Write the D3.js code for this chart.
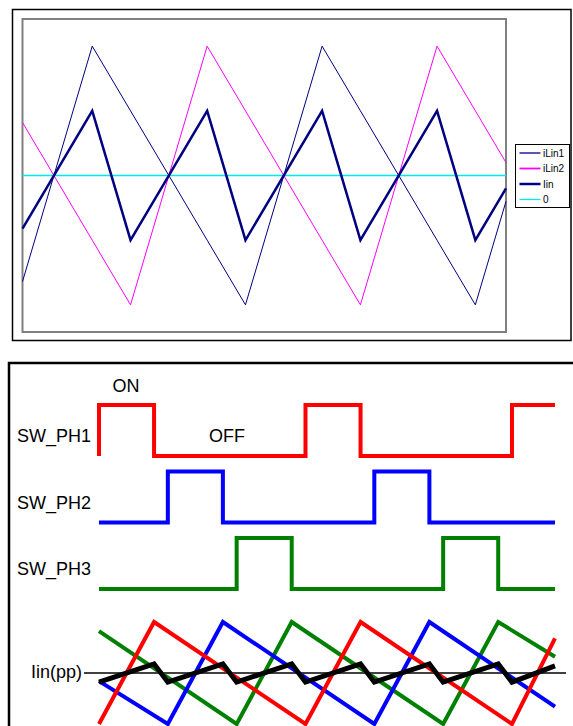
<!DOCTYPE html>
<html>
<head>
<meta charset="utf-8">
<script src="https://cdn.jsdelivr.net/npm/d3@7"></script>
<style>
  body { margin: 0; background: #fff; }
  svg { display: block; font-family: Arial, "Liberation Sans", sans-serif; }
</style>
</head>
<body>
<svg id="chart"></svg>
<script>
// ---- top chart data (Excel style line chart) ----
const tTop   = [-0.91, 0, 0.5, 1.5, 2, 3, 3.5, 4.5, 5, 5.4];
const iLin1  = [-0.82, 1, 0.5, -0.5, -1, 1, 0.5, -0.5, -1, -0.2];
const iLin2  = [0.41, -0.5, -1, 1, 0.5, -0.5, -1, 1, 0.5, 0.1];
const iIn    = [-0.41, 0.5, -0.5, 0.5, -0.5, 0.5, -0.5, 0.5, -0.5, -0.1];
const zeroS  = [0, 0, 0, 0, 0, 0, 0, 0, 0, 0];
const seriesNames = ["iLin1", "iLin2", "Iin", "0"];

// ---- bottom chart data (switching phases) ----
const phaseNames = ["SW_PH1", "SW_PH2", "SW_PH3"];
const swTime  = [[0, 0, 1.6, 6, 7.6, 12, 13.25],
                 [0, 2, 3.6, 8, 9.6, 13.25],
                 [0, 4, 5.6, 10, 11.6, 13.25]];
const swLevel = [[0, 1, 0, 1, 0, 1, 1],
                 [0, 1, 0, 1, 0, 0],
                 [0, 1, 0, 1, 0, 0]];
const triTime  = [[0, 1.6, 6, 7.6, 12, 13.25],
                  [0, 2, 3.6, 8, 9.6, 13.25],
                  [0, 4, 5.6, 10, 11.6, 13.25]];
const triValue = [[0, 1, 0, 1, 0, 0.84],
                  [0.42, 0, 1, 0, 1, 0.17],
                  [0.91, 0, 1, 0, 1, 0.66]];
const rippleTime  = [0, 1.6, 2, 3.6, 4, 5.6, 6, 7.6, 8, 9.6, 10, 11.6, 12, 13.25];
const rippleValue = [0.41, 0.59, 0.41, 0.59, 0.41, 0.59, 0.41, 0.59, 0.41, 0.59, 0.41, 0.59, 0.41, 0.57];

const width = 573;
const height = 726;

let svg = d3.select("#chart")
    .attr("width", width)
    .attr("height", height);

// ===== top chart =====
const plot = {left: 22.5, top: 19, right: 506, bottom: 332};

svg.append("rect")
    .attr("x", 12.5).attr("y", 9.5)
    .attr("width", 558.5).attr("height", 331)
    .attr("fill", "none").attr("stroke", "#000").attr("stroke-width", 1.5);

svg.append("rect")
    .attr("x", plot.left).attr("y", plot.top)
    .attr("width", plot.right - plot.left).attr("height", plot.bottom - plot.top)
    .attr("fill", "#fff").attr("stroke", "#808080").attr("stroke-width", 2);

let x = d3.scaleLinear()
    .domain([-0.91, 5.4])
    .range([plot.left, plot.right]);

let y = d3.scaleLinear()
    .domain([-1.21, 1.21])
    .range([plot.bottom, plot.top]);

let line = d3.line()
    .x(d => x(d[0]))
    .y(d => y(d[1]));

const topSeries = [
    {name: seriesNames[0], values: iLin1, color: "#000080", w: 1},
    {name: seriesNames[1], values: iLin2, color: "#ff00ff", w: 1},
    {name: seriesNames[2], values: iIn,   color: "#000080", w: 2.5},
    {name: seriesNames[3], values: zeroS, color: "#00e8f0", w: 1.3}
];

// zero line drawn first so the waves sit on top of it
[3, 1, 0, 2].forEach(i => {
    let s = topSeries[i];
    svg.append("path")
        .datum(tTop.map((t, j) => [t, s.values[j]]))
        .attr("fill", "none")
        .attr("stroke", s.color)
        .attr("stroke-width", s.w)
        .attr("stroke-linejoin", "miter")
        .attr("d", line);
});

// legend
let legend = svg.append("g").attr("transform", "translate(515.5,144.5)");
legend.append("rect")
    .attr("width", 54).attr("height", 63)
    .attr("fill", "#fff").attr("stroke", "#000").attr("stroke-width", 1);

let item = legend.selectAll(".item")
    .data(topSeries)
  .enter().append("g")
    .attr("transform", (d, i) => `translate(0, ${8.5 + i * 15.5})`);

item.append("line")
    .attr("x1", 4).attr("x2", 25)
    .attr("stroke", d => d.color)
    .attr("stroke-width", (d, i) => i === 2 ? 2.5 : (i === 1 ? 1.8 : 1.3));

item.append("text")
    .attr("x", 27.5).attr("dy", "0.35em")
    .style("font-size", "10px")
    .text(d => d.name);

// ===== bottom chart =====
svg.append("rect")
    .attr("x", 9).attr("y", 363)
    .attr("width", 600).attr("height", 400)
    .attr("fill", "none").attr("stroke", "#000").attr("stroke-width", 2.5);

let xb = d3.scaleLinear()
    .domain([0, 13.25])
    .range([99, 555]);

const phaseColors = ["#ff0000", "#0000ff", "#008000"];
const rowBase = [456, 522.5, 589];

phaseNames.forEach((name, i) => {
    let yr = d3.scaleLinear().domain([0, 1]).range([rowBase[i], rowBase[i] - 51]);
    let step = d3.line()
        .curve(d3.curveStepAfter)
        .x(d => xb(d[0]))
        .y(d => yr(d[1]));

    svg.append("path")
        .datum(swTime[i].map((t, j) => [t, swLevel[i][j]]))
        .attr("fill", "none")
        .attr("stroke", phaseColors[i])
        .attr("stroke-width", 4)
        .attr("stroke-linejoin", "miter")
        .attr("d", step);

    svg.append("text")
        .attr("x", 17)
        .attr("y", rowBase[i] - 14)
        .style("font-size", "18px")
        .text(name);
});

svg.append("text")
    .attr("x", 126).attr("y", 392)
    .attr("text-anchor", "middle")
    .style("font-size", "18px")
    .text("ON");

svg.append("text")
    .attr("x", 209).attr("y", 442)
    .style("font-size", "18px")
    .text("OFF");

// triangular phase currents
let yt = d3.scaleLinear()
    .domain([0, 1])
    .range([724, 622]);

let triLine = d3.line()
    .x(d => xb(d[0]))
    .y(d => yt(d[1]));

svg.append("line")
    .attr("x1", 84).attr("x2", 566)
    .attr("y1", yt(0.5)).attr("y2", yt(0.5))
    .attr("stroke", "#000").attr("stroke-width", 1.5);

[2, 1, 0].forEach(i => {
    svg.append("path")
        .datum(triTime[i].map((t, j) => [t, triValue[i][j]]))
        .attr("fill", "none")
        .attr("stroke", phaseColors[i])
        .attr("stroke-width", 4)
        .attr("stroke-linejoin", "miter")
        .attr("d", triLine);
});

svg.append("path")
    .datum(rippleTime.map((t, j) => [t, rippleValue[j]]))
    .attr("fill", "none")
    .attr("stroke", "#000")
    .attr("stroke-width", 5)
    .attr("stroke-linejoin", "miter")
    .attr("d", triLine);

svg.append("text")
    .attr("x", 82).attr("y", yt(0.5) + 5)
    .attr("text-anchor", "end")
    .style("font-size", "18px")
    .text("Iin(pp)");
</script>
</body>
</html>
